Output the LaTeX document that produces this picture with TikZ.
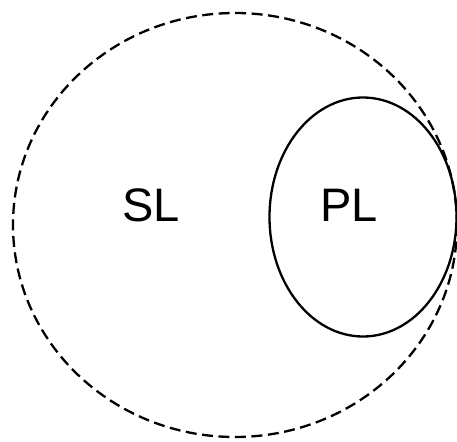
\documentclass[tikz,border=0pt]{standalone}
\usepackage{fontspec}
\setmainfont{Liberation Sans}
\begin{document}
\begin{tikzpicture}[x=1pt,y=-1pt,
  outerset/.style={draw=black,line width=2.3pt,dash pattern=on 11pt off 5.5pt},
  innerset/.style={draw=black,line width=2.3pt},
  setlabel/.style={font=\fontsize{47}{47}\selectfont,inner sep=0pt}]
\useasboundingbox (0,0) rectangle (457,441);
\draw[outerset] (235,225) ellipse [x radius=222, y radius=212];
\draw[innerset] (363,217) ellipse [x radius=93.5, y radius=119.5];
\node[setlabel] (sl) at (151,205) {SL};
\node[setlabel] (pl) at (349,205) {PL};
\end{tikzpicture}
\end{document}
